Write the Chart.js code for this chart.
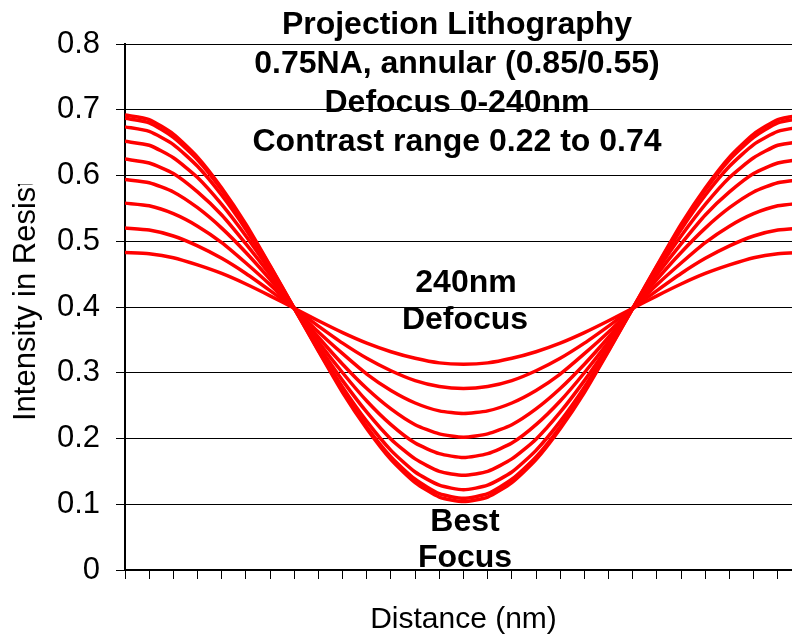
<!DOCTYPE html>
<html>
<head>
<meta charset="utf-8">
<title>Projection Lithography</title>
<style>
  html, body { margin: 0; padding: 0; background: #fff; overflow: hidden; }
  #wrap { width: 812px; height: 636px; }
</style>
<script src="https://cdn.jsdelivr.net/npm/chart.js@4.4.1/dist/chart.umd.min.js"></script>
</head>
<body>
<div id="wrap"><canvas id="chart" width="812" height="636"></canvas></div>
<script>
// distance along the cut (nm), one point per tick
const distance = [0,10,20,30,40,50,60,70,80,90,100,110,120,130,140,150,160,170,180,190,200,210,220,230,240,250,260,270,280];

// intensity curves, best focus first, then 30nm steps of defocus
const focus0   = [0.692,0.685,0.663,0.628,0.581,0.526,0.463,0.398,0.333,0.270,0.215,0.168,0.133,0.111,0.104,0.111,0.133,0.168,0.215,0.270,0.333,0.398,0.463,0.526,0.581,0.628,0.663,0.685,0.692];
const focus30  = [0.687,0.680,0.658,0.624,0.578,0.523,0.462,0.398,0.334,0.273,0.218,0.172,0.138,0.116,0.109,0.116,0.138,0.172,0.218,0.273,0.334,0.398,0.462,0.523,0.578,0.624,0.658,0.680,0.687];
const focus60  = [0.674,0.667,0.647,0.614,0.570,0.518,0.459,0.398,0.337,0.278,0.226,0.182,0.149,0.129,0.122,0.129,0.149,0.182,0.226,0.278,0.337,0.398,0.459,0.518,0.570,0.614,0.647,0.667,0.674];
const focus90  = [0.652,0.646,0.627,0.597,0.556,0.508,0.455,0.398,0.341,0.288,0.240,0.199,0.169,0.150,0.144,0.150,0.169,0.199,0.240,0.288,0.341,0.398,0.455,0.508,0.556,0.597,0.627,0.646,0.652];
const focus120 = [0.625,0.619,0.603,0.575,0.540,0.496,0.449,0.398,0.347,0.300,0.257,0.221,0.193,0.177,0.171,0.177,0.193,0.221,0.257,0.300,0.347,0.398,0.449,0.496,0.540,0.575,0.603,0.619,0.625];
const focus150 = [0.594,0.589,0.575,0.551,0.520,0.483,0.442,0.398,0.354,0.313,0.276,0.245,0.221,0.207,0.202,0.207,0.221,0.245,0.276,0.313,0.354,0.398,0.442,0.483,0.520,0.551,0.575,0.589,0.594];
const focus180 = [0.558,0.554,0.542,0.523,0.498,0.467,0.434,0.398,0.362,0.329,0.298,0.273,0.254,0.242,0.238,0.242,0.254,0.273,0.298,0.329,0.362,0.398,0.434,0.467,0.498,0.523,0.542,0.554,0.558];
const focus210 = [0.520,0.517,0.508,0.493,0.474,0.451,0.425,0.398,0.371,0.345,0.322,0.303,0.288,0.279,0.276,0.279,0.288,0.303,0.322,0.345,0.371,0.398,0.425,0.451,0.474,0.493,0.508,0.517,0.520];
const focus240 = [0.483,0.481,0.475,0.464,0.451,0.435,0.417,0.398,0.379,0.361,0.345,0.332,0.322,0.315,0.313,0.315,0.322,0.332,0.345,0.361,0.379,0.398,0.417,0.435,0.451,0.464,0.475,0.481,0.483];

const curves = [focus0, focus30, focus60, focus90, focus120, focus150, focus180, focus210, focus240];

const titleLines = ["Projection Lithography", "0.75NA, annular (0.85/0.55)", "Defocus 0-240nm", "Contrast range 0.22 to 0.74"];
const xTitle = "Distance (nm)";
const yTitle = "Intensity in Resist";

const FONT = '"Liberation Sans", Arial, sans-serif';

// texts drawn over the plot (title lines, notes, axis titles)
const textPlugin = {
  id: "texts",
  afterDraw(chart) {
    const ctx = chart.ctx;
    const area = chart.chartArea;
    ctx.save();
    ctx.fillStyle = "#000";
    ctx.textAlign = "center";
    ctx.textBaseline = "alphabetic";

    ctx.font = "bold 32px " + FONT;
    const base = [34, 73, 112, 151];
    titleLines.forEach((t, i) => ctx.fillText(t, 457, base[i]));

    ctx.fillText("240nm", 466, 292);
    ctx.fillText("Defocus", 465, 329);
    ctx.fillText("Best", 465, 531);
    ctx.fillText("Focus", 465, 567);

    ctx.font = "30px " + FONT;
    ctx.fillText(xTitle, (area.left + area.right) / 2, 628);

    // y title is cut off at the top in the original
    ctx.beginPath();
    ctx.rect(0, 184, 70, 450);
    ctx.clip();
    ctx.font = "31px " + FONT;
    ctx.translate(26, 421);
    ctx.rotate(-Math.PI / 2);
    ctx.textAlign = "left";
    ctx.textBaseline = "middle";
    ctx.fillText(yTitle, 0, 0);
    ctx.restore();
  }
};

new Chart(document.getElementById("chart"), {
  type: "line",
  data: {
    datasets: curves.map(c => ({
      data: c.map((v, i) => ({ x: distance[i], y: v })),
      borderColor: "#ff0000",
      borderWidth: 3.5,
      pointRadius: 0,
      tension: 0.2,
      fill: false
    }))
  },
  options: {
    responsive: false,
    animation: false,
    devicePixelRatio: 1,
    layout: { padding: { left: 0, right: 10, top: 44, bottom: 0 } },
    plugins: { legend: { display: false }, tooltip: { enabled: false }, title: { display: false } },
    scales: {
      x: {
        type: "linear",
        min: 0,
        max: 280,
        afterFit: s => { s.height = 66; },
        ticks: { stepSize: 10, autoSkip: false, callback: () => "", font: { size: 2 } },
        grid: { drawOnChartArea: false, drawTicks: true, tickLength: 9, color: "#000", lineWidth: 1 },
        border: { color: "#000", width: 2 }
      },
      y: {
        min: 0,
        max: 0.8,
        afterFit: s => { s.width = 125; },
        ticks: {
          stepSize: 0.1,
          padding: 16,
          color: "#000",
          font: { family: FONT, size: 31 },
          callback: v => (Math.abs(v) < 1e-9 ? "0" : v.toFixed(1))
        },
        grid: { color: "#000", lineWidth: 1, tickLength: 9, drawTicks: true },
        border: { color: "#000", width: 2 }
      }
    }
  },
  plugins: [textPlugin]
});
</script>
</body>
</html>
